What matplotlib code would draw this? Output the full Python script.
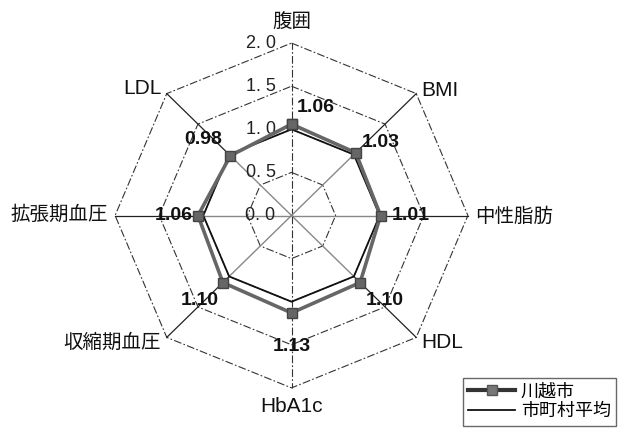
import numpy as np
import matplotlib
matplotlib.use("Agg")
import matplotlib.pyplot as plt
from matplotlib.lines import Line2D

plt.rcParams['font.family'] = ['Liberation Sans', 'Noto Sans CJK JP', 'DejaVu Sans']

categories = ['腹囲', 'BMI', '中性脂肪', 'HDL', 'HbA1c', '収縮期血圧', '拡張期血圧', 'LDL']
kawagoe = [1.06, 1.03, 1.01, 1.10, 1.13, 1.10, 1.06, 0.98]
average = [1.0, 1.0, 1.0, 1.0, 1.0, 1.0, 1.0, 1.0]
ticks = [0.0, 0.5, 1.0, 1.5, 2.0]
tick_labels = ['0. 0', '0. 5', '1. 0', '1. 5', '2. 0']
series_names = ['川越市', '市町村平均']

W, H = 622, 432
fig = plt.figure(figsize=(W / 100, H / 100), dpi=100)
ax = fig.add_axes([0, 0, 1, 1])
sx, sy = 88.2, 86.2  # px per unit (scan is slightly stretched horizontally)
cx, cy = 291.5, 216.5  # centre in px from left/bottom
ax.set_xlim(-cx / sx, (W - cx) / sx)
ax.set_ylim(-cy / sy, (H - cy) / sy)
ax.axis('off')

n = len(categories)
ang = np.pi / 2 - np.arange(n) * 2 * np.pi / n
ux, uy = np.cos(ang), np.sin(ang)

dash = (0, (7, 2, 1.5, 2))
# grid polygons
for t in ticks[1:]:
    xs = np.append(ux * t, ux[0] * t)
    ys = np.append(uy * t, uy[0] * t)
    ax.plot(xs, ys, color='#333333', lw=0.8, ls=dash, zorder=1)
# spokes
rmax = ticks[-1]
for i in range(n):
    if i == 0 or i == 4:
        ax.plot([0, ux[i] * rmax], [0, uy[i] * rmax], color='#333333', lw=0.8, ls=dash, zorder=1)
    else:
        ax.plot([0, ux[i] * 1.0], [0, uy[i] * 1.0], color='#888888', lw=1.0, zorder=1)
        ax.plot([ux[i] * 1.0, ux[i] * rmax], [uy[i] * 1.0, uy[i] * rmax], color='#222222', lw=0.9, zorder=1)

# tick labels
for t, lab in zip(ticks, tick_labels):
    ax.text(-31 / sx, t, lab, ha='center', va='center', fontsize=13, color='#222222',
            family=['Liberation Sans'])

# series
xa = np.append(ux * np.array(average), ux[0] * average[0])
ya = np.append(uy * np.array(average), uy[0] * average[0])
ax.plot(xa, ya, color='#111111', lw=1.3, zorder=3)
xk = np.append(ux * np.array(kawagoe), ux[0] * kawagoe[0])
yk = np.append(uy * np.array(kawagoe), uy[0] * kawagoe[0])
ax.plot(xk, yk, color='#666666', lw=2.6, zorder=4, marker='s', markersize=7,
        markerfacecolor='#666666', markeredgecolor='#444444')

# value labels (offset in px from the point)
offs = [(24.5, 17), (25, 10), (30, 0), (25, -17.5), (0, -34), (-23, -17.5), (-24, 0), (-27, 16)]
for i, v in enumerate(kawagoe):
    x = ux[i] * v + offs[i][0] / sx
    y = uy[i] * v + offs[i][1] / sy
    ax.text(x, y, f'{v:.2f}', ha='center', va='center', fontsize=14, fontweight='bold',
            color='#111111', family=['Liberation Sans'])

# category labels (px positions relative to centre)
cat_pos = [(0.5, 192.5), (148.5, 125.5), (222.5, -1.5), (150.5, -127.5), (0, -191.5),
           (-179.5, -127.5), (-232, 0.5), (-149.5, 127.5)]
for c, (px, py) in zip(categories, cat_pos):
    ax.text(px / sx, py / sy, c, ha='center', va='center', fontsize=15 if c.isascii() else 14,
            color='#111111')

# legend
leg_items = [
    Line2D([0], [0], color='#333333', lw=3, marker='s', markersize=7,
           markerfacecolor='#777777', markeredgecolor='#555555'),
    Line2D([0], [0], color='#111111', lw=1.3),
]
leg = fig.legend(leg_items, series_names, loc='upper left', bbox_to_anchor=(463 / W, 1 - 378 / H),
                 borderaxespad=0, fontsize=13, frameon=True, fancybox=False, edgecolor='#444444',
                 handlelength=2.6, borderpad=0.3, labelspacing=0.15, handletextpad=0.3)
leg.get_frame().set_linewidth(1.0)

fig.savefig('out.png', dpi=100)
